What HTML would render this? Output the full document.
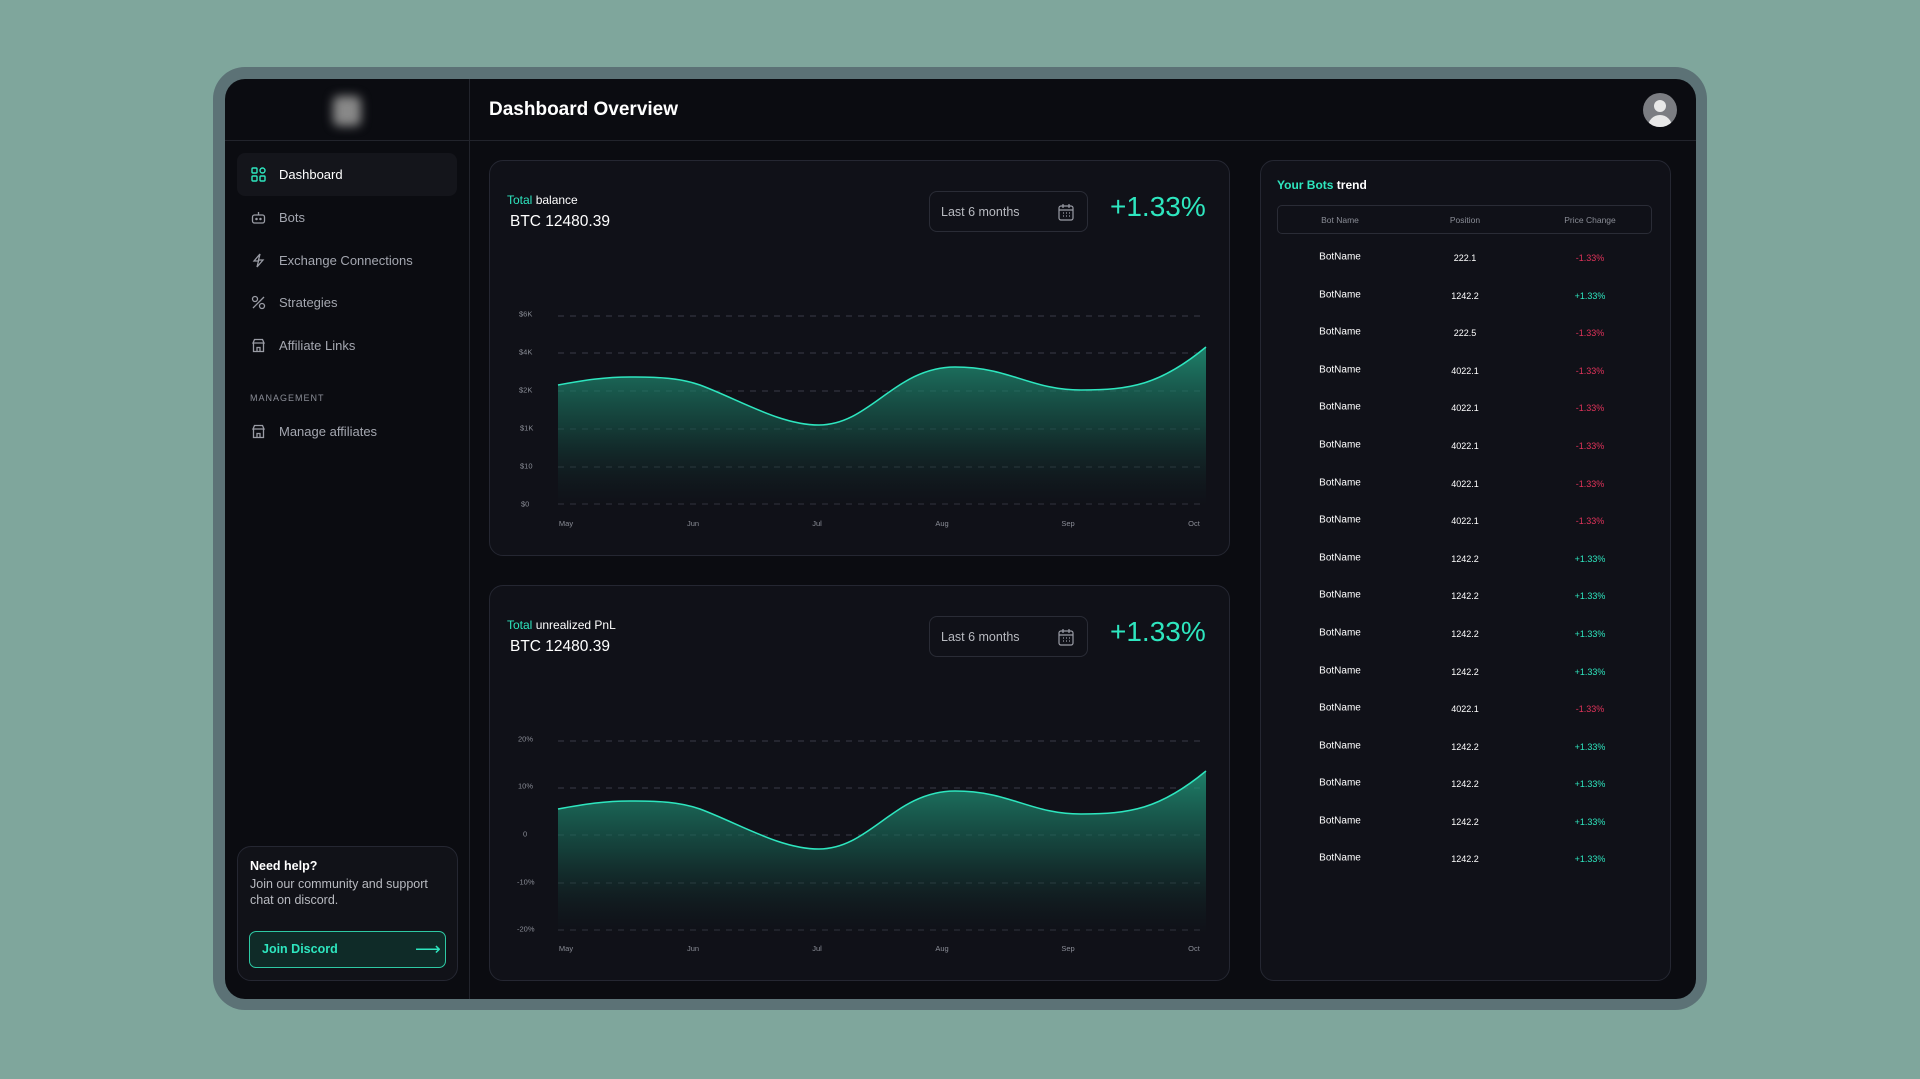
<!DOCTYPE html>
<html><head><meta charset="utf-8"><style>
*{margin:0;padding:0;box-sizing:border-box}
body{width:1920px;height:1079px;background:#7fa69c;font-family:"Liberation Sans",sans-serif;position:relative;overflow:hidden;color:#fff}
.a{position:absolute}
.frame{left:213px;top:67px;width:1494px;height:943px;background:#5c7276;border-radius:32px}
.inner{left:225px;top:79px;width:1471px;height:920px;background:#0b0c11;border-radius:20px;overflow:hidden}
.panel{position:absolute;background:#101118;border:1px solid #252732;border-radius:14px}
.nav{position:absolute;left:279px;font-size:13px;color:#a4a7b0}
.ic{position:absolute;left:251px;width:15px;height:15px}
.t{position:absolute;transform:translate(-50%,-50%);white-space:nowrap}
.yl{position:absolute;font-size:7.5px;color:#8a8d96;transform:translateY(-50%)}
.xl{position:absolute;font-size:7.5px;color:#8a8d96;transform:translateX(-50%)}
</style></head><body>
<div class="a frame"></div>
<div class="a inner"></div>
<!-- header/sidebar lines -->
<div class="a" style="left:469px;top:79px;width:1px;height:920px;background:#22242c"></div>
<div class="a" style="left:225px;top:140px;width:1471px;height:1px;background:#22242c"></div>
<div class="a" style="left:333px;top:96px;width:28px;height:30px;background:#888;border-radius:6px;filter:blur(5px)"></div>
<div class="a" style="left:489px;top:99px;font-size:19px;font-weight:bold">Dashboard Overview</div>
<div class="a" style="left:1643px;top:93px;width:34px;height:34px;border-radius:50%;background:#7b7d82;overflow:hidden">
 <div class="a" style="left:11px;top:7px;width:12px;height:12px;border-radius:50%;background:#e8e8e8"></div>
 <div class="a" style="left:5px;top:22px;width:24px;height:16px;border-radius:12px 12px 0 0;background:#e8e8e8"></div>
</div>
<!-- sidebar -->
<div class="a" style="left:237px;top:153px;width:220px;height:43px;background:#14151b;border-radius:8px"></div>
<svg class="ic" style="top:167px" viewBox="0 0 15 15" fill="none" stroke="#2ee6bf" stroke-width="1.4"><rect x="1" y="1" width="5" height="5" rx="1"/><rect x="9" y="1" width="5" height="5" rx="2.5"/><rect x="1" y="9" width="5" height="5" rx="1"/><rect x="9" y="9" width="5" height="5" rx="1"/></svg>
<div class="nav" style="top:167px;color:#fff">Dashboard</div>
<svg class="ic" style="top:210px" viewBox="0 0 15 15" fill="none" stroke="#9a9ca5" stroke-width="1.3"><rect x="1.5" y="5" width="12" height="8" rx="2"/><path d="M7.5 5V2"/><circle cx="5.5" cy="9" r=".6"/><circle cx="9.5" cy="9" r=".6"/></svg>
<div class="nav" style="top:210px">Bots</div>
<svg class="ic" style="top:253px" viewBox="0 0 15 15" fill="none" stroke="#9a9ca5" stroke-width="1.3"><path d="M9 1L3 8h4.5L6 14l6-7H7.5z"/></svg>
<div class="nav" style="top:253px">Exchange Connections</div>
<svg class="ic" style="top:295px" viewBox="0 0 15 15" fill="none" stroke="#9a9ca5" stroke-width="1.3"><path d="M2 13L13 2"/><circle cx="4" cy="4" r="2.5"/><circle cx="11" cy="11" r="2.5"/></svg>
<div class="nav" style="top:295px">Strategies</div>
<svg class="ic" style="top:338px" viewBox="0 0 15 15" fill="none" stroke="#9a9ca5" stroke-width="1.3"><path d="M2 5l1.5-3.5h8L13 5H2zM2.5 5v8.5h10V5M6 13.5V9.5h3v4"/></svg>
<div class="nav" style="top:338px">Affiliate Links</div>
<div class="a" style="left:250px;top:393px;font-size:9px;letter-spacing:1px;color:#8a8d96">MANAGEMENT</div>
<svg class="ic" style="top:424px" viewBox="0 0 15 15" fill="none" stroke="#9a9ca5" stroke-width="1.3"><path d="M2 5l1.5-3.5h8L13 5H2zM2.5 5v8.5h10V5M6 13.5V9.5h3v4"/></svg>
<div class="nav" style="top:424px">Manage affiliates</div>
<!-- help -->
<div class="panel" style="left:237px;top:846px;width:221px;height:135px;background:#111218"></div>
<div class="a" style="left:250px;top:859px;font-size:12.5px;font-weight:bold">Need help?</div>
<div class="a" style="left:250px;top:877px;font-size:12.5px;color:#b8bac0;line-height:15.5px">Join our community and support<br>chat on discord.</div>
<div class="a" style="left:249px;top:931px;width:197px;height:37px;border:1.5px solid #2ec9a4;border-radius:7px;background:#0f2b28"></div>
<div class="a" style="left:262px;top:942px;font-size:12.5px;font-weight:bold;color:#2ee6bf">Join Discord</div>
<div class="a" style="left:415px;top:939px;font-size:18px;color:#2ee6bf">⟶</div>
<!-- panels -->
<div class="panel" style="left:489px;top:160px;width:741px;height:396px"></div>
<div class="panel" style="left:489px;top:585px;width:741px;height:396px"></div>
<div class="panel" style="left:1260px;top:160px;width:411px;height:821px"></div>

<div class="a" style="left:507px;top:193px;font-size:12px"><span style="color:#2ee6bf">Total</span> balance</div>
<div class="a" style="left:510px;top:213px;font-size:15.5px">BTC 12480.39</div>
<div class="a" style="left:507px;top:618px;font-size:12px"><span style="color:#2ee6bf">Total</span> unrealized PnL</div>
<div class="a" style="left:510px;top:638px;font-size:15.5px">BTC 12480.39</div>

<div class="a" style="left:929px;top:191px;width:159px;height:41px;border:1px solid #2a2c36;border-radius:8px"></div>
<div class="a" style="left:941px;top:205px;font-size:12.5px;color:#b8bac0">Last 6 months</div>
<div class="a" style="left:929px;top:616px;width:159px;height:41px;border:1px solid #2a2c36;border-radius:8px"></div>
<div class="a" style="left:941px;top:630px;font-size:12.5px;color:#b8bac0">Last 6 months</div>
<svg class="a" style="left:1058px;top:203px" width="16" height="18" viewBox="0 0 16 18" fill="none" stroke="#9a9ca5" stroke-width="1.2"><rect x="1" y="3" width="14" height="14" rx="2"/><path d="M1 7h14M5 1v4M11 1v4"/><path d="M5 10h1M8 10h1M11 10h1M5 13h1M8 13h1M11 13h1"/></svg>
<svg class="a" style="left:1058px;top:628px" width="16" height="18" viewBox="0 0 16 18" fill="none" stroke="#9a9ca5" stroke-width="1.2"><rect x="1" y="3" width="14" height="14" rx="2"/><path d="M1 7h14M5 1v4M11 1v4"/><path d="M5 10h1M8 10h1M11 10h1M5 13h1M8 13h1M11 13h1"/></svg>
<div class="a" style="left:1110px;top:191px;font-size:28px;color:#2ee6bf">+1.33%</div>
<div class="a" style="left:1110px;top:616px;font-size:28px;color:#2ee6bf">+1.33%</div>

<svg class="a" style="left:0;top:0" width="1920" height="1079">
<defs><linearGradient id="g" x1="0" y1="0" x2="0" y2="1"><stop offset="0" stop-color="#23a585" stop-opacity=".75"/><stop offset=".5" stop-color="#17594c" stop-opacity=".6"/><stop offset="1" stop-color="#101118" stop-opacity=".2"/></linearGradient></defs>
<g stroke="#3a3c47" stroke-width="1" stroke-dasharray="6 6">
<path d="M558 316H1206M558 353H1206M558 391H1206M558 429H1206M558 467H1206M558 504H1206"/>
<path d="M558 741H1206M558 788H1206M558 835H1206M558 883H1206M558 930H1206"/>
</g>
<g id="c">
<path d="M558,385 C585,380 605,377 630,377 C660,377 680,378 700,385 C740,400 780,425 819,425 C870,425 895,367 955,367 C1010,367 1030,390 1081,390 C1130,390 1160,385 1206,347 L1206,506 L558,506Z" fill="url(#g)"/>
<path d="M558,385 C585,380 605,377 630,377 C660,377 680,378 700,385 C740,400 780,425 819,425 C870,425 895,367 955,367 C1010,367 1030,390 1081,390 C1130,390 1160,385 1206,347" fill="none" stroke="#2ee6bf" stroke-width="1.5"/>
</g>
<g transform="translate(0,424)">
<path d="M558,385 C585,380 605,377 630,377 C660,377 680,378 700,385 C740,400 780,425 819,425 C870,425 895,367 955,367 C1010,367 1030,390 1081,390 C1130,390 1160,385 1206,347 L1206,510 L558,510Z" fill="url(#g)"/>
<path d="M558,385 C585,380 605,377 630,377 C660,377 680,378 700,385 C740,400 780,425 819,425 C870,425 895,367 955,367 C1010,367 1030,390 1081,390 C1130,390 1160,385 1206,347" fill="none" stroke="#2ee6bf" stroke-width="1.5"/>
</g>
</svg>
<div class="yl" style="left:519px;top:314px">$6K</div><div class="yl" style="left:519px;top:352px">$4K</div><div class="yl" style="left:519px;top:390px">$2K</div><div class="yl" style="left:520px;top:428px">$1K</div><div class="yl" style="left:520px;top:466px">$10</div><div class="yl" style="left:521px;top:504px">$0</div>
<div class="yl" style="left:518px;top:739px">20%</div><div class="yl" style="left:518px;top:786px">10%</div><div class="yl" style="left:523px;top:834px">0</div><div class="yl" style="left:517px;top:882px">-10%</div><div class="yl" style="left:517px;top:929px">-20%</div>
<div class="xl" style="left:566px;top:519px">May</div><div class="xl" style="left:693px;top:519px">Jun</div><div class="xl" style="left:817px;top:519px">Jul</div><div class="xl" style="left:942px;top:519px">Aug</div><div class="xl" style="left:1068px;top:519px">Sep</div><div class="xl" style="left:1194px;top:519px">Oct</div>
<div class="xl" style="left:566px;top:944px">May</div><div class="xl" style="left:693px;top:944px">Jun</div><div class="xl" style="left:817px;top:944px">Jul</div><div class="xl" style="left:942px;top:944px">Aug</div><div class="xl" style="left:1068px;top:944px">Sep</div><div class="xl" style="left:1194px;top:944px">Oct</div>

<!-- bots table -->
<div class="a" style="left:1277px;top:178px;font-size:12px;font-weight:bold"><span style="color:#2ee6bf">Your Bots</span> trend</div>
<div class="a" style="left:1277px;top:205px;width:375px;height:29px;border:1px solid #2a2c36;border-radius:5px"></div>
<div class="t" style="left:1340px;top:220px;font-size:8.5px;color:#8a8d96">Bot Name</div>
<div class="t" style="left:1465px;top:220px;font-size:8.5px;color:#8a8d96">Position</div>
<div class="t" style="left:1590px;top:220px;font-size:8.5px;color:#8a8d96">Price Change</div>
<div id="rows"></div>
<div class="t" style="left:1340px;top:257px;font-size:10px">BotName</div><div class="t" style="left:1465px;top:258px;font-size:9px">222.1</div><div class="t" style="left:1590px;top:258px;font-size:9px;color:#e0335a">-1.33%</div>
<div class="t" style="left:1340px;top:295px;font-size:10px">BotName</div><div class="t" style="left:1465px;top:296px;font-size:9px">1242.2</div><div class="t" style="left:1590px;top:296px;font-size:9px;color:#2ee6bf">+1.33%</div>
<div class="t" style="left:1340px;top:332px;font-size:10px">BotName</div><div class="t" style="left:1465px;top:333px;font-size:9px">222.5</div><div class="t" style="left:1590px;top:333px;font-size:9px;color:#e0335a">-1.33%</div>
<div class="t" style="left:1340px;top:370px;font-size:10px">BotName</div><div class="t" style="left:1465px;top:371px;font-size:9px">4022.1</div><div class="t" style="left:1590px;top:371px;font-size:9px;color:#e0335a">-1.33%</div>
<div class="t" style="left:1340px;top:407px;font-size:10px">BotName</div><div class="t" style="left:1465px;top:408px;font-size:9px">4022.1</div><div class="t" style="left:1590px;top:408px;font-size:9px;color:#e0335a">-1.33%</div>
<div class="t" style="left:1340px;top:445px;font-size:10px">BotName</div><div class="t" style="left:1465px;top:446px;font-size:9px">4022.1</div><div class="t" style="left:1590px;top:446px;font-size:9px;color:#e0335a">-1.33%</div>
<div class="t" style="left:1340px;top:483px;font-size:10px">BotName</div><div class="t" style="left:1465px;top:484px;font-size:9px">4022.1</div><div class="t" style="left:1590px;top:484px;font-size:9px;color:#e0335a">-1.33%</div>
<div class="t" style="left:1340px;top:520px;font-size:10px">BotName</div><div class="t" style="left:1465px;top:521px;font-size:9px">4022.1</div><div class="t" style="left:1590px;top:521px;font-size:9px;color:#e0335a">-1.33%</div>
<div class="t" style="left:1340px;top:558px;font-size:10px">BotName</div><div class="t" style="left:1465px;top:559px;font-size:9px">1242.2</div><div class="t" style="left:1590px;top:559px;font-size:9px;color:#2ee6bf">+1.33%</div>
<div class="t" style="left:1340px;top:595px;font-size:10px">BotName</div><div class="t" style="left:1465px;top:596px;font-size:9px">1242.2</div><div class="t" style="left:1590px;top:596px;font-size:9px;color:#2ee6bf">+1.33%</div>
<div class="t" style="left:1340px;top:633px;font-size:10px">BotName</div><div class="t" style="left:1465px;top:634px;font-size:9px">1242.2</div><div class="t" style="left:1590px;top:634px;font-size:9px;color:#2ee6bf">+1.33%</div>
<div class="t" style="left:1340px;top:671px;font-size:10px">BotName</div><div class="t" style="left:1465px;top:672px;font-size:9px">1242.2</div><div class="t" style="left:1590px;top:672px;font-size:9px;color:#2ee6bf">+1.33%</div>
<div class="t" style="left:1340px;top:708px;font-size:10px">BotName</div><div class="t" style="left:1465px;top:709px;font-size:9px">4022.1</div><div class="t" style="left:1590px;top:709px;font-size:9px;color:#e0335a">-1.33%</div>
<div class="t" style="left:1340px;top:746px;font-size:10px">BotName</div><div class="t" style="left:1465px;top:747px;font-size:9px">1242.2</div><div class="t" style="left:1590px;top:747px;font-size:9px;color:#2ee6bf">+1.33%</div>
<div class="t" style="left:1340px;top:783px;font-size:10px">BotName</div><div class="t" style="left:1465px;top:784px;font-size:9px">1242.2</div><div class="t" style="left:1590px;top:784px;font-size:9px;color:#2ee6bf">+1.33%</div>
<div class="t" style="left:1340px;top:821px;font-size:10px">BotName</div><div class="t" style="left:1465px;top:822px;font-size:9px">1242.2</div><div class="t" style="left:1590px;top:822px;font-size:9px;color:#2ee6bf">+1.33%</div>
<div class="t" style="left:1340px;top:858px;font-size:10px">BotName</div><div class="t" style="left:1465px;top:859px;font-size:9px">1242.2</div><div class="t" style="left:1590px;top:859px;font-size:9px;color:#2ee6bf">+1.33%</div>
</body></html>
